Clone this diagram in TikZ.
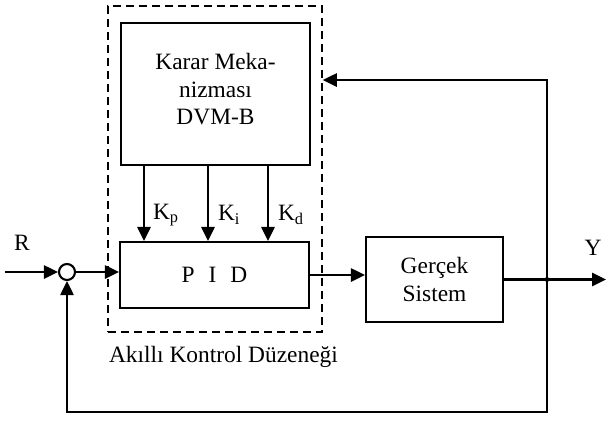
\documentclass[tikz,border=0pt]{standalone}
\usepackage{fontspec}
\setmainfont{Liberation Serif}
\usetikzlibrary{arrows.meta}

\tikzset{
  blok/.style={draw, line width=1.05pt, align=center, inner sep=0pt},
  ok/.style={line width=1.05pt, -{Triangle[length=7pt, width=6.6pt]}},
  hat/.style={line width=1.05pt},
}

\begin{document}
\begin{tikzpicture}[x=0.5pt, y=-0.5pt, font=\fontsize{11.7}{13.8}\selectfont]
			\useasboundingbox (0,0) rectangle (607,425);
			% Nodes - controller
			\node[draw, line width=0.8pt, dash pattern=on 4pt off 2.5pt, minimum width=107pt, minimum height=163pt] (akilli) at (215,169) {};
			\node[blok, minimum width=94.5pt, minimum height=71pt, text depth=5pt] (karar) at (215.5,94) {Karar Meka-\\nizması\\DVM-B};
			\node[blok, minimum width=94.5pt, minimum height=33pt] (pid) at (214.5,275) {P\hspace{0.6em}I\hspace{0.6em}D};
			\node[anchor=west] (etiket) at (102,357) {Akıllı Kontrol Düzeneği};
			
			% Nodes - loop
			\node[draw, circle, line width=1.05pt, minimum size=8pt, inner sep=0pt] (toplam) at (67,272) {};
			\node[blok, minimum width=68.5pt, minimum height=42.5pt] (gercek) at (434.5,279.5) {Gerçek\\Sistem};
			\node (R) at (22,243) {R};
			\node (Y) at (593,248) {Y};
			\coordinate (giris) at (5,272);
			\coordinate (cikis) at (606,279.5);
			\coordinate (ayrim) at (547,279.5);
			\coordinate (ust) at (547,80);
			\coordinate (alt) at (547,412);
			\coordinate (altsol) at (67,412);
			
			% Nodes - gains
			\node[anchor=west] (kp) at (146,215) {K\textsubscript{p}};
			\node[anchor=west] (ki) at (211,215) {K\textsubscript{i}};
			\node[anchor=west] (kd) at (271,215) {K\textsubscript{d}};
			
			% Edges
			\draw[ok] (giris) -- (toplam); \draw[ok] (toplam) -- (toplam -| pid.west);
			\draw[ok] (pid.east) -- (pid.east -| gercek.west);
			\draw[hat] (gercek.east) -- (ayrim); \draw[ok] (ayrim) -- (cikis);
			\draw[ok] (ayrim) -- (ust) -- (ust -| akilli.east);
			\draw[ok] (ayrim) -- (alt) -- (altsol) -- (toplam);
			\foreach \x in {144,208,268} \draw[ok] (karar.south -| \x,0) -- (pid.north -| \x,0);
			\fill (ayrim) circle (1.2pt);
		\end{tikzpicture}
\end{document}
